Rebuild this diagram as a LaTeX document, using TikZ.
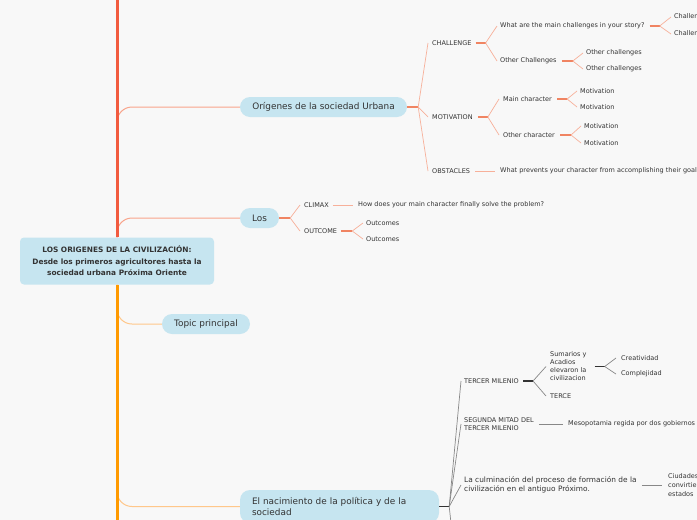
\documentclass[tikz,border=0pt]{standalone}
\usepackage{fontspec}
\setmainfont{DejaVu Sans}
\usetikzlibrary{calc}
\definecolor{bg}{HTML}{F8F8F8}
\definecolor{nodeblue}{HTML}{C6E5F0}
\definecolor{txt}{HTML}{333333}
\definecolor{trunkR}{HTML}{F25B3F}
\definecolor{trunkO}{HTML}{FF9A00}
\definecolor{branchR}{HTML}{F8A58C}
\definecolor{branchO}{HTML}{FFC78A}
\definecolor{segR}{HTML}{F08462}
\definecolor{fanR}{HTML}{F7B09A}
\definecolor{segD}{HTML}{333333}
\definecolor{fanD}{HTML}{888888}
\begin{document}
\begin{tikzpicture}[x=1pt,y=-1pt,
  lbl/.style={anchor=west, inner sep=0pt, font=\fontsize{6.5}{8}\selectfont, text=txt},
  topicnode/.style={fill=nodeblue, rounded corners=10pt, font=\fontsize{8.9}{11}\selectfont, text=txt, minimum height=20pt, inner sep=0pt},
  branchRl/.style={draw=branchR, line width=1pt, rounded corners=15pt},
  branchOl/.style={draw=branchO, line width=1pt, rounded corners=15pt},
  trunkRl/.style={draw=trunkR, line width=3pt},
  trunkOl/.style={draw=trunkO, line width=3pt},
  seg/.style={draw=segR, line width=1.3pt},
  fan/.style={draw=fanR, line width=0.7pt},
  segd/.style={draw=segD, line width=1.3pt},
  fand/.style={draw=fanD, line width=0.7pt}]
\useasboundingbox (0,0) rectangle (697,520);
\fill[bg] (0,0) rectangle (697,520);
\clip (0,0) rectangle (697,520);

% root
\node[fill=nodeblue, rounded corners=4pt, minimum width=194pt, minimum height=47pt, inner sep=0pt,
  align=center, font=\bfseries\fontsize{7.4}{11.5}\selectfont, text=txt] (root) at (117,261)
  {LOS ORIGENES DE LA CIVILIZACIÓN:\\Desde los primeros agricultores hasta la\\sociedad urbana Próxima Oriente};

% first level
\node[topicnode, minimum width=167pt] (orig) at (323.5,107) {Orígenes de la sociedad Urbana};
\node[topicnode, minimum width=39pt] (los) at (259.5,218) {Los};
\node[topicnode, minimum width=88pt] (topic) at (206,324) {Topic principal};
\node[topicnode, minimum height=33pt, text width=175pt, inner xsep=12pt, align=left] (nac) at (339.5,506.5)
  {El nacimiento de la política y de la\\sociedad};

\coordinate (top) at (117,-5);
\coordinate (bottom) at (117,525);
\draw[branchRl] (root.north) |- (orig.west);
\draw[branchRl] (root.north) |- (los.west);
\draw[branchOl] (root.south) |- (topic.west);
\draw[branchOl] (root.south) |- (nac.west);
\draw[trunkRl] (root.north) -- (top);
\draw[trunkOl] (root.south) -- (bottom);

% Origenes subtree
\node[lbl] (chal) at (432,43) {CHALLENGE};
\node[lbl] (mot) at (432,117) {MOTIVATION};
\node[lbl] (obs) at (432,171) {OBSTACLES};
\draw[seg] (orig.east) -- ++(11,0) coordinate (jo);
\foreach \c in {chal,mot,obs} \draw[fan] (jo) -- ($(\c.west)+(-4,0)$);

\node[lbl] (wq) at (500,26) {What are the main challenges in your story?};
\node[lbl] (oc) at (500,61) {Other Challenges};
\draw[seg] ($(chal.east)+(4,0)$) -- ++(10,0) coordinate (jc);
\foreach \c in {wq,oc} \draw[fan] (jc) -- ($(\c.west)+(-3,0)$);

\node[lbl] (cha1) at (674,17) {Challenges};
\node[lbl] (cha2) at (674,34) {Challenges};
\draw[seg] ($(wq.east)+(5,0)$) -- ++(10,0) coordinate (jw);
\foreach \c in {cha1,cha2} \draw[fan] (jw) -- ($(\c.west)+(-3,0)$);

\node[lbl] (oc1) at (586,53) {Other challenges};
\node[lbl] (oc2) at (586,69) {Other challenges};
\draw[seg] ($(oc.east)+(5,0)$) -- ++(11,0) coordinate (joc);
\foreach \c in {oc1,oc2} \draw[fan] (joc) -- ($(\c.west)+(-3,0)$);

\node[lbl] (mc) at (503,99) {Main character};
\node[lbl] (och) at (503,135) {Other character};
\draw[seg] ($(mot.east)+(5,0)$) -- ++(10,0) coordinate (jm);
\foreach \c in {mc,och} \draw[fan] (jm) -- ($(\c.west)+(-4,0)$);

\node[lbl] (m1) at (580,91) {Motivation};
\node[lbl] (m2) at (580,107) {Motivation};
\draw[seg] ($(mc.east)+(5,0)$) -- ++(10,0) coordinate (jmc);
\foreach \c in {m1,m2} \draw[fan] (jmc) -- ($(\c.west)+(-3,0)$);

\node[lbl] (m3) at (584,126) {Motivation};
\node[lbl] (m4) at (584,143) {Motivation};
\draw[seg] ($(och.east)+(5,0)$) -- ++(11,0) coordinate (joh);
\foreach \c in {m3,m4} \draw[fan] (joh) -- ($(\c.west)+(-3,0)$);

\node[lbl] (wp) at (500,171) {What prevents your character from accomplishing their goal?};
\draw[fan] ($(obs.east)+(5,0)$) -- ($(wp.west)+(-5,0)$);

% Los subtree
\node[lbl] (cli) at (304,205) {CLIMAX};
\node[lbl] (out) at (304,231) {OUTCOME};
\draw[seg] (los.east) -- ++(11,0) coordinate (jl);
\foreach \c in {cli,out} \draw[fan] (jl) -- ($(\c.west)+(-4,0)$);

\node[lbl] (hd) at (358,205) {How does your main character finally solve the problem?};
\draw[fan] ($(cli.east)+(4,0)$) -- ($(hd.west)+(-5,0)$);

\node[lbl] (o1) at (366,223) {Outcomes};
\node[lbl] (o2) at (366,239) {Outcomes};
\draw[seg] ($(out.east)+(4,0)$) -- ++(11,0) coordinate (jou);
\foreach \c in {o1,o2} \draw[fan] (jou) -- ($(\c.west)+(-3,0)$);

% Nacimiento subtree
\node[lbl] (tm) at (464,381) {TERCER MILENIO};
\node[lbl, align=left, font=\fontsize{6.5}{8.5}\selectfont] (sm) at (464,424) {SEGUNDA MITAD DEL\\TERCER MILENIO};
\node[lbl, align=left, font=\fontsize{7.4}{8.8}\selectfont] (cul) at (464,485)
  {La culminación del proceso de formación de la\\civilización en el antiguo Próximo.};
\coordinate (below) at (455,560);
\draw[segd] (nac.east) -- ++(10,0) coordinate (jn);
\foreach \c in {tm,sm,cul} \draw[fand] (jn) -- ($(\c.west)+(-3,0)$);
\draw[fand] (jn) -- (below);

\node[lbl, align=left, font=\fontsize{6.5}{8}\selectfont] (sum) at (550,366.5)
  {Sumarios y\\Acadios\\elevaron la\\civilizacion};
\node[lbl] (ter) at (550,396) {TERCE};
\draw[segd] ($(tm.east)+(4,0)$) -- ++(10,0) coordinate (jt);
\foreach \c in {sum,ter} \draw[fand] (jt) -- ($(\c.west)+(-4,0)$);

\node[lbl] (cre) at (621,358) {Creatividad};
\node[lbl] (com) at (621,374) {Complejidad};
\draw[segd] ($(sum.east)+(8,0)$) -- ++(10,0) coordinate (js);
\foreach \c in {cre,com} \draw[fand] (js) -- ($(\c.west)+(-5,0)$);

\node[lbl] (meso) at (568,424) {Mesopotamia regida por dos gobiernos};
\draw[fand] ($(sm.east)+(5,0)$) -- ($(meso.west)+(-5,0)$);

\node[lbl, align=left, font=\fontsize{6.5}{9}\selectfont] (ciu) at (668,485) {Ciudades se\\convirtieron en\\estados};
\draw[fand] ($(cul.east)+(5,0)$) -- ($(ciu.west)+(-6,0)$);
\end{tikzpicture}
\end{document}
